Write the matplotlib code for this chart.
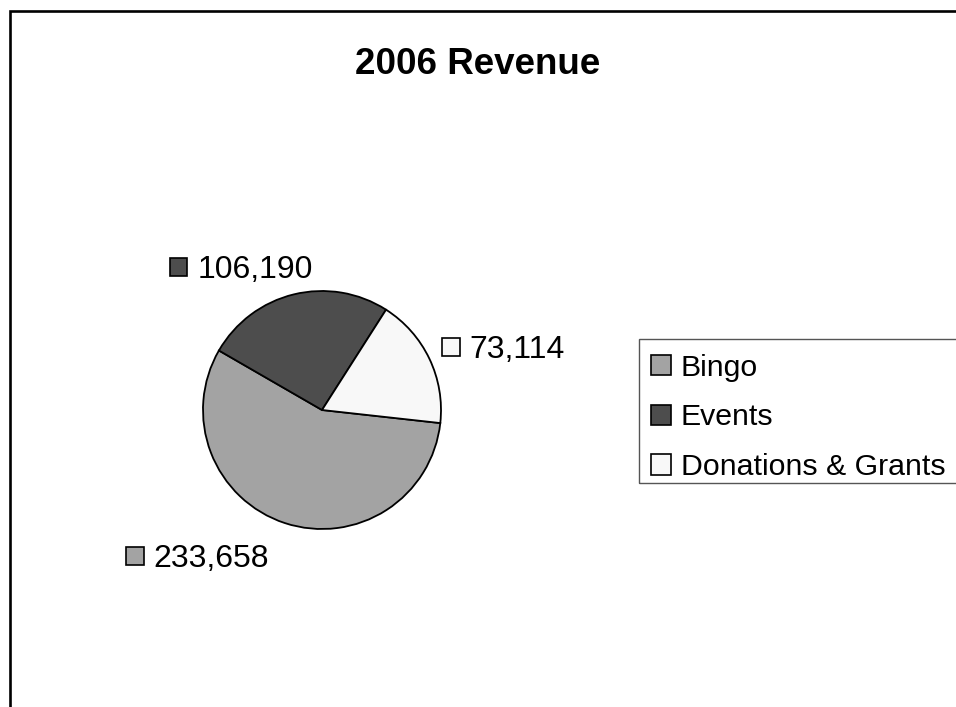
import matplotlib
matplotlib.use("Agg")
import matplotlib.pyplot as plt
from matplotlib.patches import Rectangle

plt.rcParams['font.family'] = ['Liberation Sans', 'DejaVu Sans']

# ---- data ----
title = "2006 Revenue"
categories = ["Bingo", "Events", "Donations & Grants"]
values = [233658, 106190, 73114]
colors = ["#a3a3a3", "#4d4d4d", "#f8f8f8"]
# label positions (pie-axes data units, radius = 1)
label_pos = [(-1.571, -1.319), (-1.206, 1.109), (1.084, 0.437)]

W, H = 956, 707
fig = plt.figure(figsize=(W / 100, H / 100), dpi=100)
fig.patch.set_facecolor("white")

# outer chart border (extends past right/bottom edges, as in reference)
fig.patches.append(Rectangle((10 / W, -0.5), 2.0, 1.5 - 11 / H,
                             transform=fig.transFigure, fill=False,
                             edgecolor="black", linewidth=1.9))

# title
fig.text(478 / W, 1 - 74 / H, title, ha="center", va="baseline",
         fontsize=26.5, fontweight="bold")

# pie axes: centre (322, 410) px, radius 119 px
cx, cy, r = 322, 410, 119
ax = fig.add_axes([(cx - r) / W, (H - cy - r) / H, 2 * r / W, 2 * r / H])
wedges, _ = ax.pie(values, colors=colors, startangle=-6.3, counterclock=False,
                   radius=1.0,
                   wedgeprops=dict(edgecolor="black", linewidth=1.3))
ax.set_xlim(-1, 1)
ax.set_ylim(-1, 1)
ax.set_aspect("equal")
ax.axis("off")

# data labels with small colour squares
sq = 17.5 / r
fs_lab = 23
for val, col, (lx, ly) in zip(values, colors, label_pos):
    ax.add_patch(Rectangle((lx - sq / 2, ly + 11 / r - sq / 2), sq, sq,
                           facecolor=col, edgecolor="black", linewidth=1.2,
                           clip_on=False))
    ax.text(lx + sq / 2 + 10 / r, ly, f"{val:,}", ha="left", va="baseline",
            fontsize=fs_lab, clip_on=False)

# legend frame (runs off the right edge as in the reference)
fig.patches.append(Rectangle((639 / W, 1 - 483 / H), 1.0, (483 - 339) / H,
                             transform=fig.transFigure, fill=False,
                             edgecolor="#555555", linewidth=1.0))
leg = fig.legend(wedges, categories, loc="upper left",
                 bbox_to_anchor=(651 / W, 1 - 353.5 / H), borderaxespad=0,
                 fontsize=21.8, frameon=False,
                 handlelength=0.65, handleheight=0.65, handletextpad=0.34,
                 labelspacing=0.72, borderpad=0)
for h in leg.legend_handles:
    h.set_edgecolor("black")
    h.set_linewidth(1.2)

fig.savefig("out.png", dpi=100, facecolor="white")
